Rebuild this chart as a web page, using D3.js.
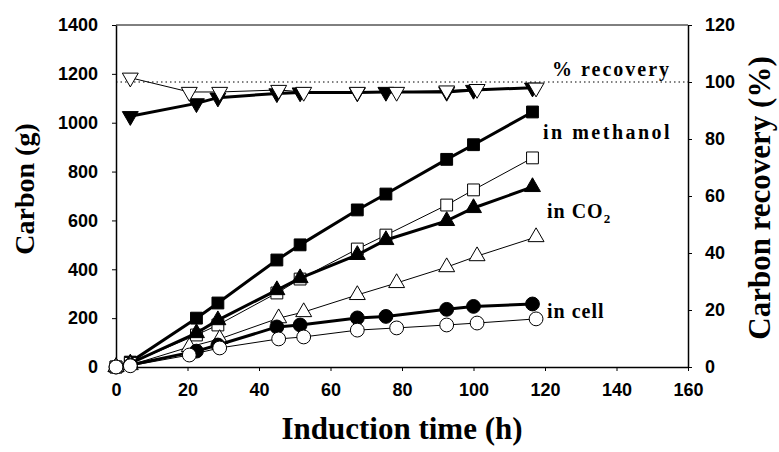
<!DOCTYPE html>
<html>
<head>
<meta charset="utf-8">
<script src="https://cdn.jsdelivr.net/npm/d3@7"></script>
<style>
  body { margin: 0; background: #fff; }
  svg { display: block; }
</style>
</head>
<body>
<svg id="chart" width="779" height="452"></svg>
<script>
// sampling times (h) - two runs were sampled at slightly different times
const timeA = [0, 4, 22.5, 28.5, 45, 51.5, 67.5, 75.5, 92.5, 100, 116.5];
const timeB = [0, 4, 20.5, 29, 45.5, 52.5, 67.5, 78.5, 92.5, 101, 117.5];

// carbon (g)
const methanolFilled = [0, 20, 200, 262, 438, 500, 643, 708, 850, 910, 1044];
const methanolOpen = [0, 15, 131, 172, 303, 360, 483, 540, 663, 725, 856];
const co2Filled = [0, 15, 139, 192, 315, 364, 459, 520, 598, 651, 737];
const co2Open = [0, 8, 82, 115, 200, 225, 295, 344, 409, 454, 532];
const cellFilled = [0, 8, 65, 90, 164, 172, 201, 207, 236, 248, 258];
const cellOpen = [0, 5, 49, 78, 115, 123, 151, 160, 172, 180, 197];

// carbon recovery (%), no value at t = 0
const recoveryFilled = [88, 92.5, 94.5, 96, 96.3, 96.3, 96.5, 96.5, 97.2, 98];
const recoveryOpen = [101.5, 96.5, 96.5, 97.2, 96.5, 96.5, 96.5, 97, 97.5, 98];

const xTicks = [0, 20, 40, 60, 80, 100, 120, 140, 160];
const yTicks = [0, 200, 400, 600, 800, 1000, 1200, 1400];
const y2Ticks = [0, 20, 40, 60, 80, 100, 120];

const labelTexts = ['in methanol', 'in CO', 'in cell', '% recovery'];

const margin = { top: 25, right: 91, bottom: 85, left: 116 };
const width = 779;
const height = 452;

const svg = d3.select('#chart');

const x = d3.scaleLinear().domain([0, 160]).range([margin.left, width - margin.right]);
const y = d3.scaleLinear().domain([0, 1400]).range([height - margin.bottom, margin.top]);
const y2 = d3.scaleLinear().domain([0, 120]).range([height - margin.bottom, margin.top]);

// frame top
svg.append('line')
  .attr('x1', x(0)).attr('x2', x(160))
  .attr('y1', y(1400)).attr('y2', y(1400))
  .attr('stroke', '#000').attr('stroke-width', 1);

const tickFont = g => g.selectAll('text')
  .attr('font-family', 'Liberation Sans, Arial, sans-serif')
  .attr('font-weight', 'bold')
  .attr('font-size', 18)
  .attr('fill', '#000');

svg.append('g')
  .attr('transform', `translate(0,${y(0)})`)
  .call(d3.axisBottom(x).tickValues(xTicks).tickFormat(d3.format('d'))
    .tickSize(4).tickSizeOuter(0).tickPadding(12))
  .call(g => g.select('.domain').attr('stroke-width', 1.5))
  .call(tickFont);

svg.append('g')
  .attr('transform', `translate(${x(0)},0)`)
  .call(d3.axisLeft(y).tickValues(yTicks).tickFormat(d3.format('d'))
    .tickSize(4).tickSizeOuter(0).tickPadding(14))
  .call(g => g.select('.domain').attr('stroke-width', 1.5))
  .call(tickFont);

svg.append('g')
  .attr('transform', `translate(${x(160)},0)`)
  .call(d3.axisRight(y2).tickValues(y2Ticks).tickFormat(d3.format('d'))
    .tickSize(4).tickSizeOuter(0).tickPadding(13))
  .call(g => g.select('.domain').attr('stroke-width', 1.5))
  .call(tickFont);

// 100 % reference line
svg.append('line')
  .attr('x1', x(0)).attr('x2', x(160))
  .attr('y1', y2(100)).attr('y2', y2(100))
  .attr('stroke', '#000').attr('stroke-width', 1)
  .attr('stroke-dasharray', '1.5,3');

const series = [
  { t: timeA, v: methanolFilled, scale: y, symbol: d3.symbolSquare, size: 140, filled: true },
  { t: timeA, v: methanolOpen, scale: y, symbol: d3.symbolSquare, size: 140, filled: false },
  { t: timeA, v: co2Filled, scale: y, symbol: d3.symbolTriangle, size: 110, filled: true },
  { t: timeB, v: co2Open, scale: y, symbol: d3.symbolTriangle, size: 110, filled: false },
  { t: timeA, v: cellFilled, scale: y, symbol: d3.symbolCircle, size: 150, filled: true },
  { t: timeB, v: cellOpen, scale: y, symbol: d3.symbolCircle, size: 150, filled: false },
  { t: timeA.slice(1), v: recoveryFilled, scale: y2, symbol: d3.symbolTriangle, size: 110, filled: true, down: true },
  { t: timeB.slice(1), v: recoveryOpen, scale: y2, symbol: d3.symbolTriangle, size: 110, filled: false, down: true },
];

series.forEach(s => {
  const pts = s.t.map((t, i) => [t, s.v[i]]);
  const line = d3.line().x(d => x(d[0])).y(d => s.scale(d[1]));
  svg.append('path')
    .datum(pts)
    .attr('d', line)
    .attr('fill', 'none')
    .attr('stroke', '#000')
    .attr('stroke-width', s.filled ? 3 : 1);

  svg.append('g')
    .selectAll('path')
    .data(pts)
    .join('path')
    .attr('d', d3.symbol().type(s.symbol).size(s.size))
    .attr('transform', d => `translate(${x(d[0])},${s.scale(d[1])})${s.down ? ' rotate(180)' : ''}`)
    .attr('fill', s.filled ? '#000' : '#fff')
    .attr('stroke', '#000')
    .attr('stroke-width', 1);
});

// series labels
const serif = 'Liberation Serif, Times New Roman, serif';
const labelPos = [[543, 139], [547, 218], [547, 318], [552, 76]];
const labelSpacing = [2.5, 1, 1, 2];
labelTexts.forEach((txt, i) => {
  const t = svg.append('text')
    .attr('x', labelPos[i][0])
    .attr('y', labelPos[i][1])
    .attr('font-family', serif)
    .attr('font-weight', 'bold')
    .attr('font-size', 20)
    .attr('letter-spacing', labelSpacing[i])
    .text(txt);
  if (txt === 'in CO') {
    t.append('tspan').attr('dy', 5).attr('font-size', 13).text('2');
  }
});

// axis titles
svg.append('text')
  .attr('x', 402)
  .attr('y', 439)
  .attr('text-anchor', 'middle')
  .attr('font-family', serif)
  .attr('font-weight', 'bold')
  .attr('font-size', 31)
  .text('Induction time (h)');

svg.append('text')
  .attr('transform', 'translate(34,189) rotate(-90)')
  .attr('text-anchor', 'middle')
  .attr('font-family', serif)
  .attr('font-weight', 'bold')
  .attr('font-size', 28)
  .text('Carbon (g)');

svg.append('text')
  .attr('transform', 'translate(770,198) rotate(-90)')
  .attr('text-anchor', 'middle')
  .attr('font-family', serif)
  .attr('font-weight', 'bold')
  .attr('font-size', 31)
  .text('Carbon recovery (%)');
</script>
</body>
</html>
